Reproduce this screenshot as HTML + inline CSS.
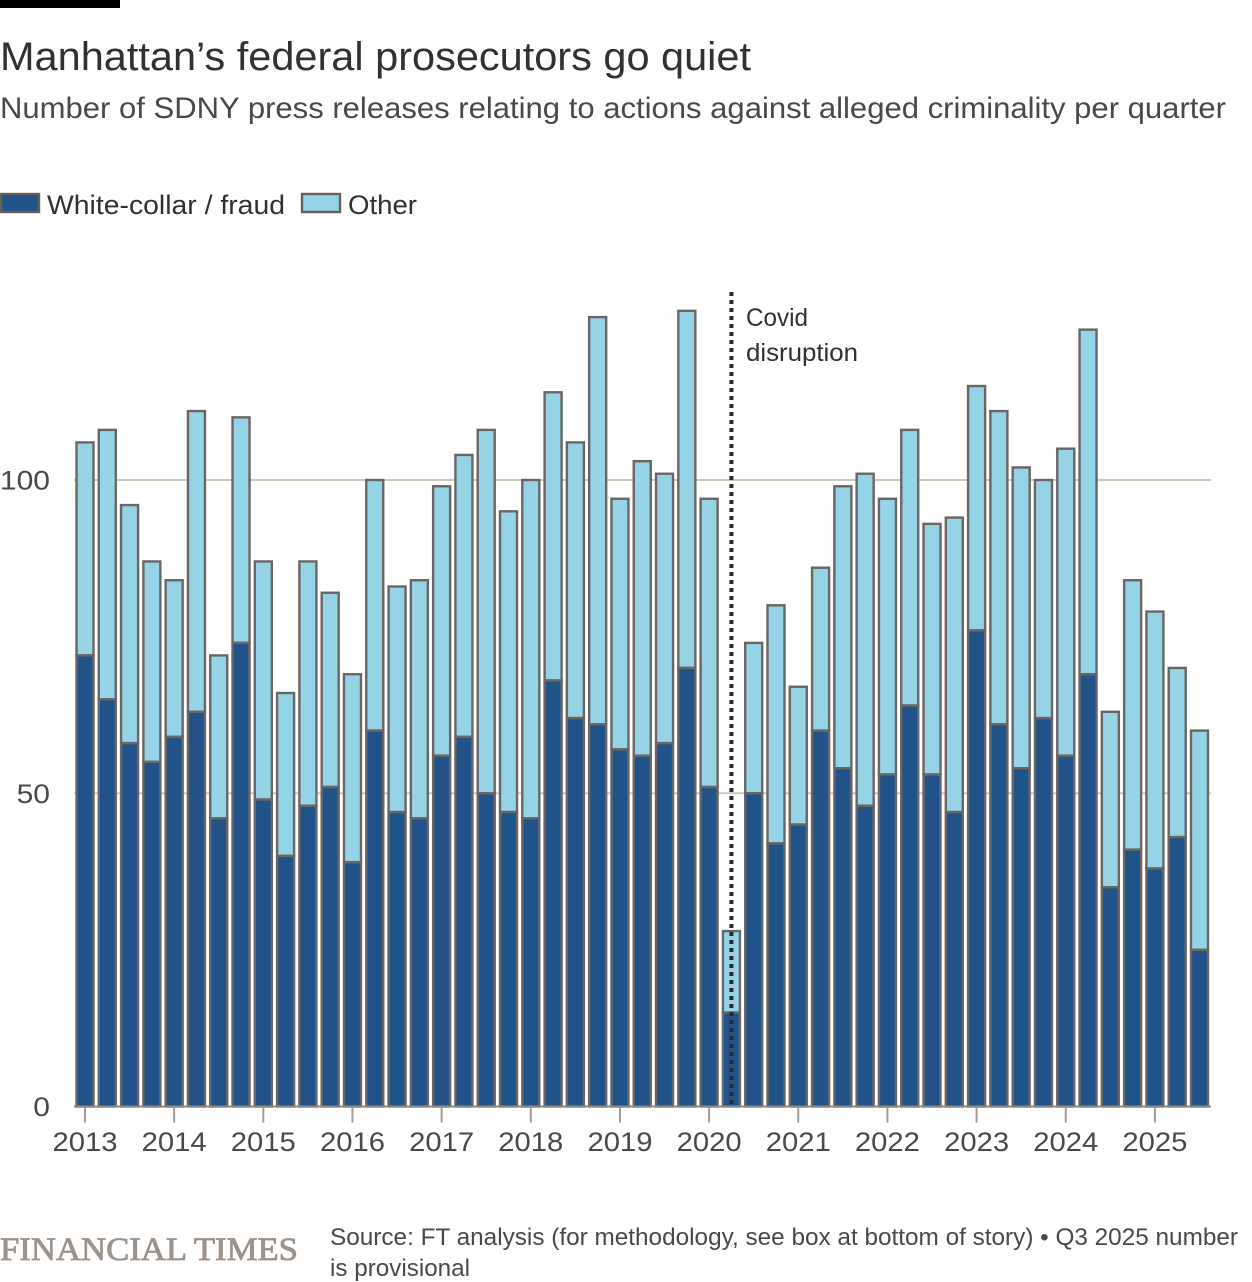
<!DOCTYPE html>
<html lang="en">
<head>
<meta charset="utf-8">
<title>Manhattan's federal prosecutors go quiet</title>
<style>
html,body{margin:0;padding:0;background:#fff;width:1252px;height:1282px;overflow:hidden}
svg{display:block}
text{font-family:"Liberation Sans",sans-serif}
</style>
</head>
<body>
<svg id="chart" xmlns="http://www.w3.org/2000/svg" width="1252" height="1282" viewBox="0 0 1252 1282">
  <rect x="0" y="0" width="120" height="8" fill="#000"/>
  <text x="0" y="70" font-size="40" fill="#33302e" textLength="751" lengthAdjust="spacingAndGlyphs">Manhattan’s federal prosecutors go quiet</text>
  <text x="0" y="118" font-size="30" fill="#4c4845" textLength="1226" lengthAdjust="spacingAndGlyphs">Number of SDNY press releases relating to actions against alleged criminality per quarter</text>
  <g>
    <rect x="1" y="194" width="38" height="18" fill="#205389" stroke="#66605c" stroke-width="2.4"/>
    <text x="47" y="214" font-size="27" fill="#33302e" textLength="238" lengthAdjust="spacingAndGlyphs">White-collar / fraud</text>
    <rect x="302" y="194" width="38" height="18" fill="#95d3e7" stroke="#66605c" stroke-width="2.4"/>
    <text x="348" y="214" font-size="27" fill="#33302e" textLength="69" lengthAdjust="spacingAndGlyphs">Other</text>
  </g>
  <g id="grid"></g>
  <g id="y-labels"></g>
  <g id="bars"></g>
  <g id="x-axis"></g>
  <line id="covid-line" stroke="#262a33" stroke-width="4" stroke-dasharray="4 4"/>
  <text font-size="25" fill="#33302e">
    <tspan x="746" y="326" textLength="62" lengthAdjust="spacingAndGlyphs">Covid</tspan>
    <tspan x="746" y="361" textLength="112" lengthAdjust="spacingAndGlyphs">disruption</tspan>
  </text>
  <text x="0" y="1260" style="font-family:'Liberation Serif',serif" font-size="33" fill="#9b938c" stroke="#9b938c" stroke-width="0.8" textLength="298" lengthAdjust="spacingAndGlyphs">FINANCIAL TIMES</text>
  <text font-size="24" fill="#4c4845">
    <tspan x="330" y="1245" textLength="908" lengthAdjust="spacingAndGlyphs">Source: FT analysis (for methodology, see box at bottom of story) • Q3 2025 number</tspan>
    <tspan x="330" y="1276" textLength="140" lengthAdjust="spacingAndGlyphs">is provisional</tspan>
  </text>
</svg>
<script>
var yearLabels = ["2013","2014","2015","2016","2017","2018","2019","2020","2021","2022","2023","2024","2025"];
var yTicks = [0, 50, 100];
var covidQuarterIndex = 29;
var whiteCollar = [72,65,58,55, 59,63,46,74, 49,40,48,51, 39,60,47,46, 56,59,50,47, 46,68,62,61, 57,56,58,70, 51,15,50,42, 45,60,54,48, 53,64,53,47, 76,61,54,62, 56,69,35,41, 38,43,25];
var totals = [106,108,96,87, 84,111,72,110, 87,66,87,82, 69,100,83,84, 99,104,108,95, 100,114,106,126, 97,103,101,127, 97,28,74,80, 67,86,99,101, 97,108,93,94, 115,111,102,100, 105,124,63,84, 79,70,60];

var svgNS = "http://www.w3.org/2000/svg";
var X0 = 85, STEP = 22.29, Y0 = 1106.5, UNIT = 6.265, BAR_W = 17;
function xScale(i){ return X0 + i * STEP; }
function yScale(v){ return Y0 - v * UNIT; }
function make(tag, attrs, parent){
  var el = document.createElementNS(svgNS, tag);
  for (var k in attrs) el.setAttribute(k, attrs[k]);
  parent.appendChild(el);
  return el;
}
var gridG = document.getElementById("grid");
var yLabG = document.getElementById("y-labels");
yTicks.forEach(function(t){
  if (t > 0) {
    var gl = make("line", {x1:74, x2:1211, y1:yScale(t), y2:yScale(t), stroke:"#cec9bd", "stroke-width":2}, gridG);
    
    
  }
  var lb = make("text", {x:50, y:yScale(t)+9.5, "text-anchor":"end", "font-size":27, fill:"#4c4845", textLength:String(t).length*16.7, lengthAdjust:"spacingAndGlyphs"}, yLabG);
  
  
  lb.textContent = t;
});
var barsG = document.getElementById("bars");
totals.forEach(function(total, i){
  var w = whiteCollar[i], x = xScale(i) - BAR_W / 2;
  var other = make("rect", {x:x, y:yScale(total), width:BAR_W, height:yScale(w)-yScale(total), fill:"#95d3e7", stroke:"#6b6663", "stroke-width":2.4}, barsG);
  
  
  var wc = make("rect", {x:x, y:yScale(w), width:BAR_W, height:Y0-yScale(w), fill:"#205389", stroke:"#6b6663", "stroke-width":2.4}, barsG);
  
  
});
var xG = document.getElementById("x-axis");
var axis = make("line", {x1:74, x2:1211, y1:Y0, y2:Y0, stroke:"#8f877e", "stroke-width":2}, xG);


yearLabels.forEach(function(label, i){
  var x = xScale(i * 4);
  var tick = make("line", {x1:x, x2:x, y1:Y0, y2:Y0+16, stroke:"#a59d94", "stroke-width":2}, xG);
  
  
  var t = make("text", {x:x, y:1151, "text-anchor":"middle", "font-size":27, fill:"#4c4845", textLength:65, lengthAdjust:"spacingAndGlyphs"}, xG);
  
  
  t.textContent = label;
});
var c = document.getElementById("covid-line");
c.setAttribute("x1", xScale(covidQuarterIndex));
c.setAttribute("x2", xScale(covidQuarterIndex));
c.setAttribute("y1", 292);
c.setAttribute("y2", Y0);
</script>
</body>
</html>
